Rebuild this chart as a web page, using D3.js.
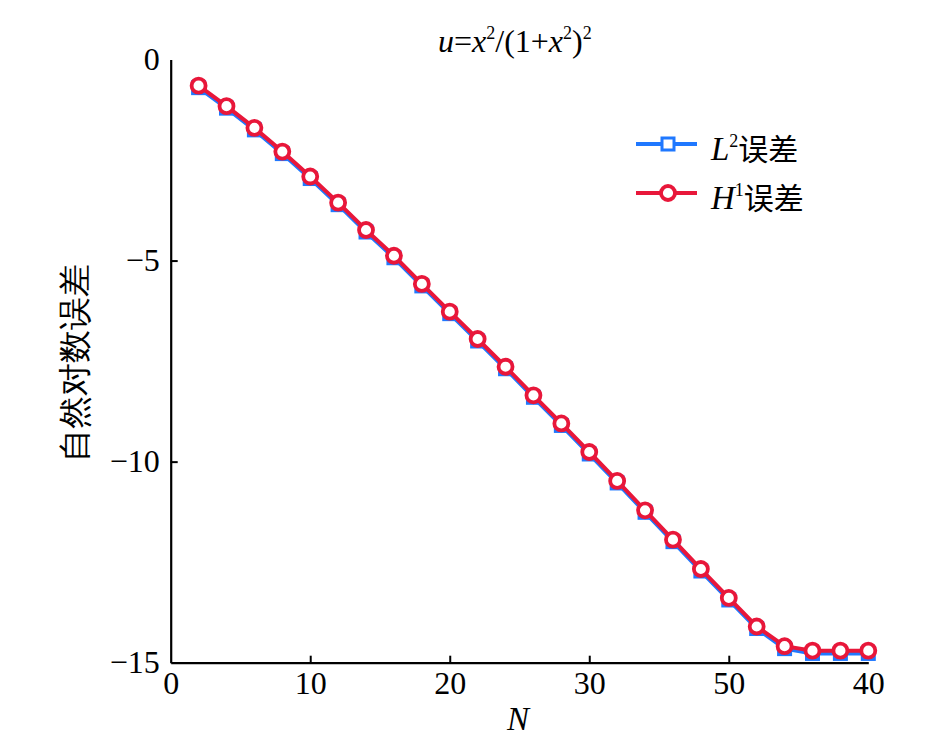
<!DOCTYPE html>
<html>
<head>
<meta charset="utf-8">
<script src="https://cdn.jsdelivr.net/npm/d3@7"></script>
<style>
  body { margin: 0; background: #fff; }
  text { font-family: "Liberation Serif", "Times New Roman", serif; }
</style>
</head>
<body>
<div id="chart"></div>
<script>
// data
var N = [2, 4, 6, 8, 10, 12, 14, 16, 18, 20, 22, 24, 26, 28, 30, 32, 34, 36, 38, 40, 42, 44, 46, 48, 50];
var errH1 = [-0.65, -1.16, -1.70, -2.29, -2.91, -3.56, -4.24, -4.88, -5.58, -6.27, -6.95, -7.64, -8.35,
             -9.05, -9.76, -10.48, -11.21, -11.94, -12.67, -13.39, -14.10, -14.59, -14.70, -14.70, -14.70];
var errL2 = [-0.70, -1.21, -1.75, -2.34, -2.96, -3.61, -4.29, -4.93, -5.63, -6.32, -7.00, -7.69, -8.40,
             -9.10, -9.81, -10.53, -11.26, -11.99, -12.72, -13.44, -14.15, -14.65, -14.77, -14.77, -14.77];
var xTicks = [0, 10, 20, 30, 40, 50];
var xTickLabels = ["0", "10", "20", "30", "50", "40"];   // as printed in the figure
var yTicks = [0, -5, -10, -15];

var W = 945, H = 743;
var margin = {left: 170.7, top: 59.5, right: 945 - 868.3, bottom: 743 - 662.7};
var w = W - margin.left - margin.right,
    h = H - margin.top - margin.bottom;

var svg = d3.select('#chart').append('svg')
    .attr('width', W)
    .attr('height', H);

var g = svg.append('g')
    .attr('transform', 'translate(' + margin.left + ',' + margin.top + ')');

var x = d3.scaleLinear().domain([0, 50]).range([0, w]);
var y = d3.scaleLinear().domain([0, -15]).range([0, h]);

var blue = '#1f78ff', red = '#e8173a';

// axes
var xAxis = d3.axisBottom(x).tickValues(xTicks).tickSize(0).tickPadding(9)
    .tickFormat(function (d, i) { return xTickLabels[i]; });
var gx = g.append('g').attr('transform', 'translate(0,' + h + ')').call(xAxis);
gx.select('.domain').attr('stroke', '#000').attr('stroke-width', 2.2);
gx.selectAll('text').attr('font-size', 32).attr('fill', '#000')
    .attr('font-family', '"Liberation Serif", serif');
// inner tick marks (none on the far end)
gx.selectAll('.tick').filter(function (d) { return d > 0 && d < 50; })
    .append('line').attr('y1', 0).attr('y2', -7).attr('stroke', '#000').attr('stroke-width', 2);

var yAxis = d3.axisLeft(y).tickValues(yTicks).tickSize(0).tickPadding(11)
    .tickFormat(function (d) { return d < 0 ? '\u2212' + (-d) : d; });
var gy = g.append('g').call(yAxis);
gy.select('.domain').attr('stroke', '#000').attr('stroke-width', 2.2);
gy.selectAll('text').attr('font-size', 32).attr('fill', '#000')
    .attr('font-family', '"Liberation Serif", serif');
gy.selectAll('.tick').filter(function (d) { return d < 0 && d > -15; })
    .append('line').attr('x1', 0).attr('x2', 7).attr('stroke', '#000').attr('stroke-width', 2);

// series
var line = d3.line()
    .x(function (d) { return x(d[0]); })
    .y(function (d) { return y(d[1]); });

var l2 = N.map(function (n, i) { return [n, errL2[i]]; });
var h1 = N.map(function (n, i) { return [n, errH1[i]]; });

g.append('path').datum(l2).attr('d', line)
    .attr('fill', 'none').attr('stroke', blue).attr('stroke-width', 4);
g.selectAll('rect.l2').data(l2).enter().append('rect')
    .attr('class', 'l2')
    .attr('x', function (d) { return x(d[0]) - 6; })
    .attr('y', function (d) { return y(d[1]) - 6; })
    .attr('width', 12).attr('height', 12)
    .attr('fill', '#fff').attr('stroke', blue).attr('stroke-width', 3);

g.append('path').datum(h1).attr('d', line)
    .attr('fill', 'none').attr('stroke', red).attr('stroke-width', 4);
g.selectAll('circle.h1').data(h1).enter().append('circle')
    .attr('class', 'h1')
    .attr('cx', function (d) { return x(d[0]); })
    .attr('cy', function (d) { return y(d[1]); })
    .attr('r', 7)
    .attr('fill', '#fff').attr('stroke', red).attr('stroke-width', 3.8);

// legend
var lg = svg.append('g');
lg.append('line').attr('x1', 636).attr('x2', 697).attr('y1', 144).attr('y2', 144)
    .attr('stroke', blue).attr('stroke-width', 4);
lg.append('rect').attr('x', 662).attr('y', 138).attr('width', 12).attr('height', 12)
    .attr('fill', '#fff').attr('stroke', blue).attr('stroke-width', 3);
lg.append('line').attr('x1', 636).attr('x2', 697).attr('y1', 193).attr('y2', 193)
    .attr('stroke', red).attr('stroke-width', 4);
lg.append('circle').attr('cx', 668).attr('cy', 193).attr('r', 7)
    .attr('fill', '#fff').attr('stroke', red).attr('stroke-width', 3.8);

var t1 = lg.append('text').attr('x', 711).attr('y', 160).attr('font-size', 33);
t1.append('tspan').attr('font-style', 'italic').text('L');
t1.append('tspan').attr('font-size', 18).attr('dy', -13).text('2');
t1.append('tspan').attr('dy', 13).attr('font-family', '"Noto Sans CJK SC"').attr('font-size', 30).text('误差');

var t2 = lg.append('text').attr('x', 711).attr('y', 209).attr('font-size', 33);
t2.append('tspan').attr('font-style', 'italic').text('H');
t2.append('tspan').attr('font-size', 18).attr('dy', -13).text('1');
t2.append('tspan').attr('dy', 13).attr('font-family', '"Noto Sans CJK SC"').attr('font-size', 30).text('误差');

// title
var tt = svg.append('text').attr('x', 438).attr('y', 52).attr('font-size', 32);
tt.append('tspan').attr('font-style', 'italic').text('u');
tt.append('tspan').text('=');
tt.append('tspan').attr('font-style', 'italic').text('x');
tt.append('tspan').attr('font-size', 18).attr('dy', -13).text('2');
tt.append('tspan').attr('dy', 13).text('/(1+');
tt.append('tspan').attr('font-style', 'italic').text('x');
tt.append('tspan').attr('font-size', 18).attr('dy', -13).text('2');
tt.append('tspan').attr('dy', 13).text(')');
tt.append('tspan').attr('font-size', 18).attr('dy', -13).text('2');

// axis titles
svg.append('text').attr('x', 518).attr('y', 730).attr('text-anchor', 'middle')
    .attr('font-size', 33).attr('font-style', 'italic').text('N');

svg.append('text')
    .attr('transform', 'translate(86,363) rotate(-90)')
    .attr('text-anchor', 'middle')
    .attr('font-family', '"Noto Sans CJK SC"')
    .attr('font-weight', 300)
    .attr('font-size', 33)
    .text('自然对数误差');
</script>
</body>
</html>
